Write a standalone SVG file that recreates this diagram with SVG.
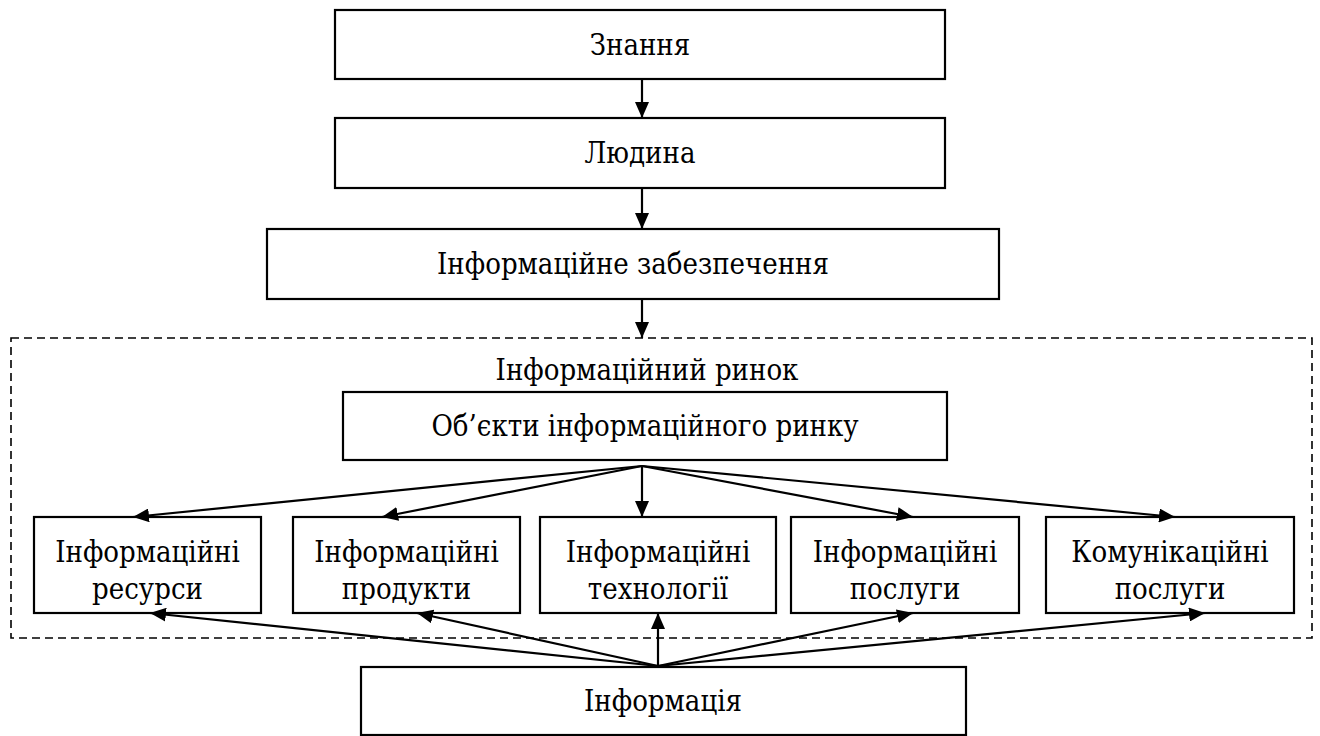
<svg xmlns="http://www.w3.org/2000/svg" width="1320" height="736" viewBox="0 0 1320 736">
  <style>
    .box { fill: #fff; stroke: #000; stroke-width: 2.2; }
    .frame { fill: none; stroke: #000; stroke-width: 1.6; stroke-dasharray: 8 5; }
    .lbl { font-family: "DejaVu Serif Condensed", "DejaVu Serif", serif; font-stretch: condensed; font-size: 29px; fill: #000; text-anchor: middle; }
    .arr { stroke: #000; stroke-width: 2.2; fill: none; marker-end: url(#head); }
  </style>
  <defs>
    <marker id="head" viewBox="0 0 16 14" refX="16" refY="7" markerWidth="16" markerHeight="14" markerUnits="userSpaceOnUse" orient="auto">
      <path d="M0,0 L16,7 L0,14 Z" fill="#000"/>
    </marker>
  </defs>

  <!-- market boundary -->
  <g id="market">
    <rect class="frame" x="11" y="338" width="1301" height="300"/>
    <text class="lbl" x="647" y="380">Інформаційний ринок</text>
  </g>

  <g id="knowledge">
    <rect class="box" x="335" y="10" width="610" height="69"/>
    <text class="lbl" x="640" y="55">Знання</text>
  </g>
  <g id="human">
    <rect class="box" x="335" y="118" width="610" height="70"/>
    <text class="lbl" x="640" y="163">Людина</text>
  </g>
  <g id="info-support">
    <rect class="box" x="267" y="229" width="732" height="70"/>
    <text class="lbl" x="633" y="274">Інформаційне забезпечення</text>
  </g>
  <g id="market-objects">
    <rect class="box" x="343" y="392" width="604" height="68"/>
    <text class="lbl" x="645" y="436">Об’єкти інформаційного ринку</text>
  </g>

  <g id="resources">
    <rect class="box" x="34" y="517" width="227" height="96"/>
    <text class="lbl" x="147.5" y="562">Інформаційні</text>
    <text class="lbl" x="147.5" y="599">ресурси</text>
  </g>
  <g id="products">
    <rect class="box" x="293" y="517" width="227" height="96"/>
    <text class="lbl" x="406.5" y="562">Інформаційні</text>
    <text class="lbl" x="406.5" y="599">продукти</text>
  </g>
  <g id="technologies">
    <rect class="box" x="540" y="517" width="236" height="96"/>
    <text class="lbl" x="658" y="562">Інформаційні</text>
    <text class="lbl" x="658" y="599">технології</text>
  </g>
  <g id="services">
    <rect class="box" x="791" y="517" width="228" height="96"/>
    <text class="lbl" x="905" y="562">Інформаційні</text>
    <text class="lbl" x="905" y="599">послуги</text>
  </g>
  <g id="communication">
    <rect class="box" x="1046" y="517" width="248" height="96"/>
    <text class="lbl" x="1170" y="562">Комунікаційні</text>
    <text class="lbl" x="1170" y="599">послуги</text>
  </g>

  <g id="information">
    <rect class="box" x="361" y="667" width="605" height="68"/>
    <text class="lbl" x="663" y="711">Інформація</text>
  </g>

  <!-- connectors -->
  <g id="connectors">
    <line class="arr" x1="642" y1="79" x2="642" y2="118"/>
    <line class="arr" x1="642" y1="188" x2="642" y2="229"/>
    <line class="arr" x1="642" y1="299" x2="642" y2="338"/>

    <line class="arr" x1="642" y1="466" x2="133" y2="517"/>
    <line class="arr" x1="642" y1="466" x2="382" y2="517"/>
    <line class="arr" x1="642" y1="466" x2="642" y2="517"/>
    <line class="arr" x1="642" y1="466" x2="913" y2="517"/>
    <line class="arr" x1="642" y1="466" x2="1175" y2="517"/>

    <line class="arr" x1="658" y1="666" x2="150" y2="613"/>
    <line class="arr" x1="658" y1="666" x2="417" y2="613"/>
    <line class="arr" x1="658" y1="666" x2="658" y2="613"/>
    <line class="arr" x1="658" y1="666" x2="913" y2="613"/>
    <line class="arr" x1="658" y1="666" x2="1205" y2="613"/>
  </g>
</svg>
